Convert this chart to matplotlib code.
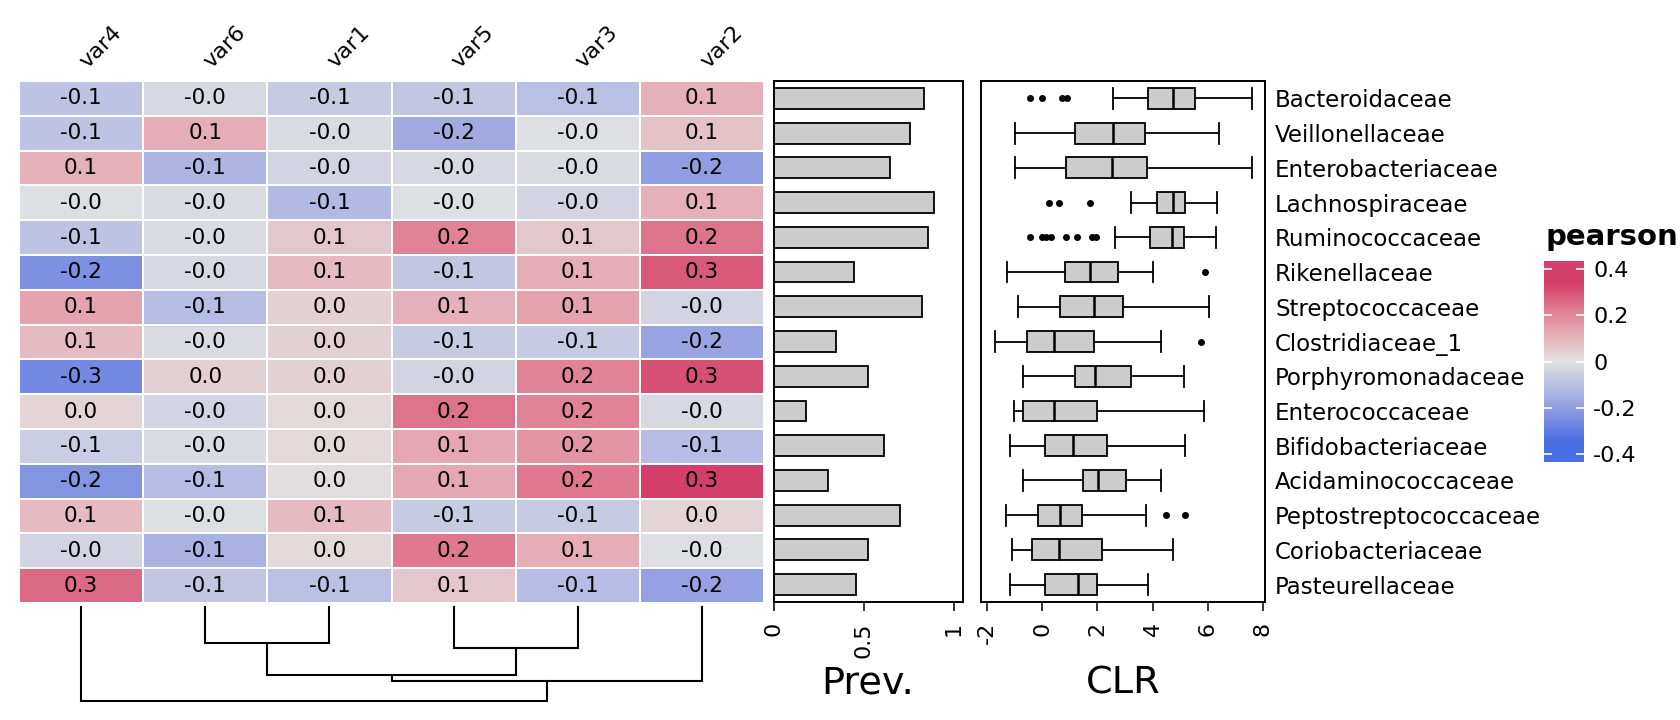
import matplotlib
matplotlib.use("Agg")
import matplotlib.pyplot as plt
import numpy as np
from matplotlib.colors import LinearSegmentedColormap, Normalize
from matplotlib.cm import ScalarMappable
from matplotlib.transforms import offset_copy

# ---- data -------------------------------------------------------------
families = [
    "Bacteroidaceae", "Veillonellaceae", "Enterobacteriaceae", "Lachnospiraceae",
    "Ruminococcaceae", "Rikenellaceae", "Streptococcaceae", "Clostridiaceae_1",
    "Porphyromonadaceae", "Enterococcaceae", "Bifidobacteriaceae",
    "Acidaminococcaceae", "Peptostreptococcaceae", "Coriobacteriaceae",
    "Pasteurellaceae",
]
variables = ["var4", "var6", "var1", "var5", "var3", "var2"]

# pearson correlation, rows = families, columns = variables (in the order above)
pearson = [
    [-0.09, -0.03, -0.07, -0.08, -0.10, 0.11],
    [-0.09, 0.12, -0.02, -0.16, -0.01, 0.07],
    [0.11, -0.13, -0.04, -0.03, -0.02, -0.20],
    [-0.01, -0.02, -0.12, -0.01, -0.04, 0.11],
    [-0.09, -0.02, 0.06, 0.21, 0.06, 0.24],
    [-0.24, -0.03, 0.09, -0.08, 0.12, 0.29],
    [0.14, -0.11, 0.04, 0.11, 0.14, -0.04],
    [0.09, -0.02, 0.04, -0.07, -0.07, -0.18],
    [-0.26, 0.04, 0.04, -0.04, 0.21, 0.31],
    [0.03, -0.04, 0.02, 0.24, 0.21, -0.03],
    [-0.06, -0.02, 0.02, 0.13, 0.17, -0.11],
    [-0.23, -0.11, 0.01, 0.13, 0.23, 0.34],
    [0.09, -0.01, 0.09, -0.07, -0.07, 0.03],
    [-0.04, -0.14, 0.02, 0.23, 0.12, -0.01],
    [0.26, -0.08, -0.10, 0.06, -0.11, -0.19],
]

# column dendrogram: (left node, right node, height); leaves 0-5, merges 6+
dendro_merges = [(1, 2, 0.383), (3, 4, 0.436), (6, 7, 0.723), (8, 5, 0.787), (0, 9, 1.0)]

prevalence = [0.833, 0.758, 0.647, 0.891, 0.855, 0.446, 0.823, 0.347,
              0.524, 0.179, 0.613, 0.302, 0.702, 0.524, 0.458]

# CLR box stats: whisker low, q1, median, q3, whisker high
clr_whislo = [2.55, -1.00, -0.98, 3.20, 2.63, -1.29, -0.87, -1.73, -0.68, -1.04, -1.16, -0.68, -1.30, -1.09, -1.16]
clr_q1 = [3.85, 1.17, 0.87, 4.17, 3.89, 0.82, 0.63, -0.54, 1.20, -0.68, 0.09, 1.49, -0.16, -0.36, 0.09]
clr_med = [4.73, 2.57, 2.54, 4.73, 4.70, 1.74, 1.88, 0.42, 1.91, 0.42, 1.12, 2.01, 0.65, 0.60, 1.29]
clr_q3 = [5.54, 3.73, 3.78, 5.18, 5.14, 2.76, 2.92, 1.86, 3.20, 1.97, 2.33, 3.05, 1.43, 2.15, 1.98]
clr_whishi = [7.61, 6.41, 7.61, 6.35, 6.29, 4.02, 6.04, 4.31, 5.14, 5.85, 5.18, 4.30, 3.76, 4.75, 3.82]
clr_fliers = [
    [-0.45, 0.0, 0.72, 0.91],
    [],
    [],
    [0.24, 0.59, 1.73],
    [-0.45, -0.02, 0.13, 0.33, 0.85, 1.27, 1.82, 1.95],
    [5.89],
    [],
    [5.75],
    [],
    [],
    [],
    [],
    [4.50, 5.18],
    [],
    [],
]

cbar_ticks = [-0.4, -0.2, 0, 0.2, 0.4]
cbar_ticklabels = ["-0.4", "-0.2", "0", "0.2", "0.4"]

# ---- colours ----------------------------------------------------------
vlim = 0.435
pal_vals = [-0.34, -0.227, -0.113, 0.0, 0.113, 0.227, 0.34]
pal_cols = ["#4A6FE3", "#8595E1", "#B5BBE3", "#E2E2E2", "#E6AFB9", "#E07B91", "#D33F6A"]
nodes = [(0.0, pal_cols[0])]
nodes += [((v + vlim) / (2 * vlim), c) for v, c in zip(pal_vals, pal_cols)]
nodes += [(1.0, pal_cols[-1])]
cmap = LinearSegmentedColormap.from_list("bluered2", nodes, N=512)
norm = Normalize(-vlim, vlim)

W, H = 1680, 720
fig = plt.figure(figsize=(W / 100, H / 100), dpi=100)


def px_axes(x0, y0, x1, y1):
    return fig.add_axes([x0 / W, 1 - y1 / H, (x1 - x0) / W, (y1 - y0) / H])


n_rows = len(families)
n_cols = len(variables)
values = np.array(pearson)

# ---- heatmap ----------------------------------------------------------
ax_hm = px_axes(19, 81, 764, 603)
ax_hm.pcolormesh(values, cmap=cmap, norm=norm, edgecolors="white", linewidth=1.2)
ax_hm.set_xlim(0, n_cols)
ax_hm.set_ylim(n_rows, 0)
ax_hm.axis("off")
for i in range(n_rows):
    for j in range(n_cols):
        ax_hm.text(j + 0.5, i + 0.5, f"{values[i, j]:.1f}",
                   ha="center", va="center", fontsize=15.5)

label_tr = offset_copy(ax_hm.transData, fig=fig, x=6, y=12, units="dots")
for j, name in enumerate(variables):
    ax_hm.text(j + 0.5, 0, name, transform=label_tr, rotation=45,
               rotation_mode="anchor", ha="left", va="baseline", fontsize=16)

# ---- dendrogram -------------------------------------------------------
ax_d = px_axes(19, 607, 764, 701)
ax_d.set_xlim(0, n_cols)
ax_d.set_ylim(1.0, 0.0)
ax_d.axis("off")
node_x = [j + 0.5 for j in range(n_cols)]
node_h = [0.0] * n_cols
for left, right, h in dendro_merges:
    xl, xr = node_x[left], node_x[right]
    ax_d.plot([xl, xl, xr, xr], [node_h[left], h, h, node_h[right]],
              color="black", lw=1.5, clip_on=False, solid_joinstyle="miter")
    node_x.append((xl + xr) / 2)
    node_h.append(h)

ypos = np.arange(n_rows)

# ---- prevalence bars --------------------------------------------------
ax_p = px_axes(773.6, 81, 963, 602)
ax_p.barh(ypos, prevalence, height=0.6, color="#CCCCCC", edgecolor="black", linewidth=1.3)
ax_p.set_xlim(0, 1.052)
ax_p.set_ylim(n_rows - 0.5, -0.5)
ax_p.set_yticks([])
ax_p.set_xticks([0, 0.5, 1])
ax_p.set_xticklabels(["0", "0.5", "1"], rotation=90)

# ---- CLR boxplots -----------------------------------------------------
ax_c = px_axes(981, 81, 1264.6, 602)
stats = []
for k in range(n_rows):
    stats.append(dict(whislo=clr_whislo[k], q1=clr_q1[k], med=clr_med[k],
                      q3=clr_q3[k], whishi=clr_whishi[k], fliers=clr_fliers[k]))
ax_c.bxp(stats, positions=ypos, widths=0.6, capwidths=0.6, orientation="horizontal",
         patch_artist=True, manage_ticks=False,
         boxprops=dict(facecolor="#CCCCCC", edgecolor="black", linewidth=1.3),
         whiskerprops=dict(color="black", linewidth=1.3),
         capprops=dict(color="black", linewidth=1.3),
         medianprops=dict(color="black", linewidth=1.8),
         flierprops=dict(marker="o", markersize=4, markerfacecolor="black",
                         markeredgecolor="black"))
ax_c.set_xlim(-2.22, 8.06)
ax_c.set_ylim(n_rows - 0.5, -0.5)
ax_c.set_xticks([-2, 0, 2, 4, 6, 8])
ax_c.set_xticklabels(["-2", "0", "2", "4", "6", "8"], rotation=90)
ax_c.yaxis.tick_right()
ax_c.set_yticks(ypos)
ax_c.set_yticklabels(families, fontsize=16.5)
ax_c.tick_params(axis="y", length=0, pad=7.5)

for ax in (ax_p, ax_c):
    for sp in ax.spines.values():
        sp.set_linewidth(1.4)
    ax.tick_params(axis="x", length=6.5, width=1.1, pad=8, labelsize=16)

fig.text(868 / W, 1 - 683 / H, "Prev.", ha="center", va="center", fontsize=27.5)
fig.text(1123 / W, 1 - 683 / H, "CLR", ha="center", va="center", fontsize=27.5)

# ---- colour legend ----------------------------------------------------
cax = px_axes(1544, 261, 1584, 462)
cb = fig.colorbar(ScalarMappable(norm=norm, cmap=cmap), cax=cax)
cb.outline.set_visible(False)
cb.set_ticks(cbar_ticks)
cb.set_ticklabels(cbar_ticklabels)
cax.yaxis.set_ticks_position("both")
cax.tick_params(axis="y", direction="in", length=5.8, width=1.2, color="white",
                labelsize=16, pad=6.5, labelleft=False, labelright=True)
fig.text(1546 / W, 1 - 237 / H, "pearson", ha="left", va="center",
         fontsize=21, fontweight="bold")

fig.savefig("out.png", dpi=100)
